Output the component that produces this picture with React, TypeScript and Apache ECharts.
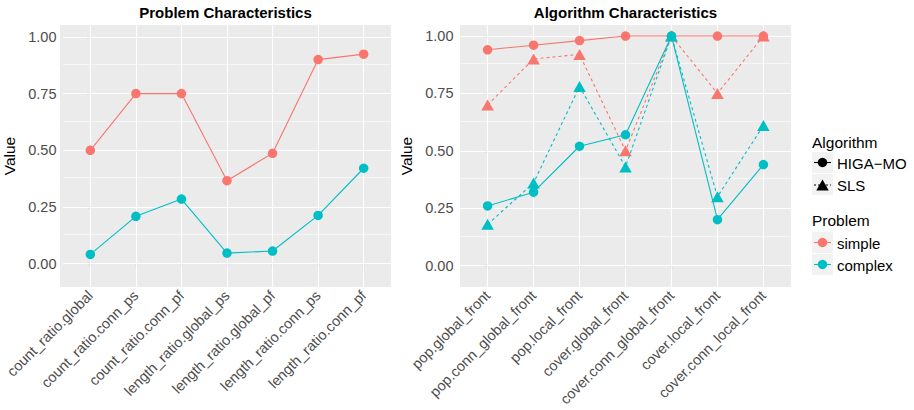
import React, { useEffect, useRef } from "react";
import * as echarts from "echarts";

const problemCategories = [
  "count_ratio.global",
  "count_ratio.conn_ps",
  "count_ratio.conn_pf",
  "length_ratio.global_ps",
  "length_ratio.global_pf",
  "length_ratio.conn_ps",
  "length_ratio.conn_pf",
];
const problemSimple = [0.5, 0.75, 0.75, 0.366, 0.487, 0.9, 0.924];
const problemComplex = [0.041, 0.209, 0.285, 0.047, 0.056, 0.213, 0.421];

const algoCategories = [
  "pop.global_front",
  "pop.conn_global_front",
  "pop.local_front",
  "cover.global_front",
  "cover.conn_global_front",
  "cover.local_front",
  "cover.conn_local_front",
];
const higaSimple = [0.94, 0.96, 0.98, 1.0, 1.0, 1.0, 1.0];
const slsSimple = [0.7, 0.9, 0.92, 0.5, 1.0, 0.75, 1.0];
const higaComplex = [0.26, 0.32, 0.52, 0.57, 1.0, 0.2, 0.44];
const slsComplex = [0.18, 0.36, 0.78, 0.43, 1.0, 0.3, 0.61];

const yTicks = [0, 0.25, 0.5, 0.75, 1.0];
const yMinor = [0.125, 0.375, 0.625, 0.875];
const xIdx = [0, 1, 2, 3, 4, 5, 6];

const RED = "#F8766D";
const TEAL = "#00BFC4";
const FONT = "Liberation Sans, Arial, Helvetica, sans-serif";
const Y_RANGES = [
  [-0.1025, 1.0525],
  [-0.093, 1.048],
];
const PANELS = [
  { left: 60, top: 25, width: 331, height: 262 },
  { left: 460, top: 25, width: 331, height: 262 },
];

const pairs = (vals: number[]) => vals.map((v, i) => [i, v]);

export default function App() {
  const ref = useRef<HTMLDivElement>(null);
  useEffect(() => {
    if (!ref.current) return;
    const chart = echarts.init(ref.current, null, { renderer: "svg" });

    const xAxisFor = (gridIndex: number, cats: string[]) => ({
      type: "value",
      gridIndex,
      min: -0.6,
      max: 6.6,
      axisLine: { show: false },
      splitLine: { show: false },
      axisTick: {
        show: true,
        customValues: xIdx,
        length: 3.5,
        lineStyle: { color: "#333333", width: 1.1 },
      },
      axisLabel: {
        customValues: xIdx,
        rotate: 45,
        margin: 6,
        fontSize: 14.5,
        color: "#4D4D4D",
        fontFamily: FONT,
        formatter: (v: number) => cats[Math.round(v)],
      },
    });
    const yAxisFor = (gridIndex: number) => ({
      type: "value",
      gridIndex,
      min: Y_RANGES[gridIndex][0],
      max: Y_RANGES[gridIndex][1],
      name: "Value",
      nameLocation: "middle",
      nameRotate: 90,
      nameGap: 46,
      nameTextStyle: { fontSize: 15.5, color: "#000", fontFamily: FONT },
      axisLine: { show: false },
      splitLine: { show: false },
      axisTick: {
        show: true,
        customValues: yTicks,
        length: 3.5,
        lineStyle: { color: "#333333", width: 1.1 },
      },
      axisLabel: {
        customValues: yTicks,
        margin: 6.5,
        fontSize: 14.5,
        color: "#4D4D4D",
        fontFamily: FONT,
        formatter: (v: number) => v.toFixed(2),
      },
    });

    const gridSeries = (idx: number) => ({
      type: "line",
      xAxisIndex: idx,
      yAxisIndex: idx,
      data: [],
      z: 0,
      silent: true,
      markLine: {
        silent: true,
        symbol: "none",
        label: { show: false },
        emphasis: { disabled: true },
        data: [
          ...yMinor.map((v) => ({ yAxis: v, lineStyle: { color: "#FFFFFF", width: 0.55, type: "solid" } })),
          ...yTicks.map((v) => ({ yAxis: v, lineStyle: { color: "#FFFFFF", width: 1.1, type: "solid" } })),
          ...xIdx.map((v) => ({ xAxis: v, lineStyle: { color: "#FFFFFF", width: 1.1, type: "solid" } })),
        ],
      },
    });

    const lineS = (idx: number, vals: number[], color: string, dashed: boolean) => ({
      type: "line",
      xAxisIndex: idx,
      yAxisIndex: idx,
      data: pairs(vals),
      showSymbol: false,
      symbol: "none",
      z: 6,
      lineStyle: { color, width: 1.1, type: dashed ? [3, 3] : "solid" },
      itemStyle: { color },
      silent: true,
    });
    const pointS = (idx: number, vals: number[], color: string, tri: boolean) => ({
      type: "scatter",
      xAxisIndex: idx,
      yAxisIndex: idx,
      data: pairs(vals),
      symbol: tri ? "triangle" : "circle",
      symbolSize: tri ? [12.5, 11] : 9.5,
      z: 7,
      itemStyle: { color, opacity: 1 },
      silent: true,
    });

    const kx = 812;
    const kw = 21;
    const tf = `15.5px ${FONT}`;
    const lf = `15px ${FONT}`;
    const legend: any[] = [
      { type: "text", x: kx, y: 142, style: { text: "Algorithm", font: tf, fill: "#000", verticalAlign: "middle" } },
      { type: "rect", shape: { x: kx, y: 152, width: kw, height: kw }, style: { fill: "#F2F2F2" } },
      { type: "line", shape: { x1: kx + 2, y1: 162.5, x2: kx + kw - 2, y2: 162.5 }, style: { stroke: "#000", lineWidth: 1.1 } },
      { type: "circle", shape: { cx: kx + kw / 2, cy: 162.5, r: 4.75 }, style: { fill: "#000" } },
      { type: "text", x: 837, y: 163, style: { text: "HIGA\u2212MO", font: lf, fill: "#000", verticalAlign: "middle" } },
      { type: "rect", shape: { x: kx, y: 174, width: kw, height: kw }, style: { fill: "#F2F2F2" } },
      { type: "line", shape: { x1: kx + 2, y1: 185, x2: kx + kw - 2, y2: 185 }, style: { stroke: "#000", lineWidth: 1.1, lineDash: [2, 2] } },
      { type: "polygon", shape: { points: [[kx + kw / 2, 179.5], [kx + kw / 2 + 6.25, 190.5], [kx + kw / 2 - 6.25, 190.5]] }, style: { fill: "#000" } },
      { type: "text", x: 837, y: 185.5, style: { text: "SLS", font: lf, fill: "#000", verticalAlign: "middle" } },
      { type: "text", x: kx, y: 220, style: { text: "Problem", font: tf, fill: "#000", verticalAlign: "middle" } },
      { type: "rect", shape: { x: kx, y: 232, width: kw, height: kw }, style: { fill: "#F2F2F2" } },
      { type: "line", shape: { x1: kx + 2, y1: 242.5, x2: kx + kw - 2, y2: 242.5 }, style: { stroke: RED, lineWidth: 1.1 } },
      { type: "circle", shape: { cx: kx + kw / 2, cy: 242.5, r: 4.75 }, style: { fill: RED } },
      { type: "text", x: 837, y: 243, style: { text: "simple", font: lf, fill: "#000", verticalAlign: "middle" } },
      { type: "rect", shape: { x: kx, y: 254, width: kw, height: kw }, style: { fill: "#F2F2F2" } },
      { type: "line", shape: { x1: kx + 2, y1: 264.5, x2: kx + kw - 2, y2: 264.5 }, style: { stroke: TEAL, lineWidth: 1.1 } },
      { type: "circle", shape: { cx: kx + kw / 2, cy: 264.5, r: 4.75 }, style: { fill: TEAL } },
      { type: "text", x: 837, y: 265, style: { text: "complex", font: lf, fill: "#000", verticalAlign: "middle" } },
      { type: "text", x: 225.5, y: 12, style: { text: "Problem Characteristics", font: `bold 15px ${FONT}`, fill: "#000", align: "center", verticalAlign: "middle" } },
      { type: "text", x: 625.5, y: 12, style: { text: "Algorithm Characteristics", font: `bold 15px ${FONT}`, fill: "#000", align: "center", verticalAlign: "middle" } },
    ];

    chart.setOption({
      animation: false,
      backgroundColor: "transparent",
      textStyle: { fontFamily: FONT },
      grid: PANELS.map((p) => ({ ...p, show: false, borderWidth: 0 })),
      xAxis: [xAxisFor(0, problemCategories), xAxisFor(1, algoCategories)],
      yAxis: [yAxisFor(0), yAxisFor(1)],
      series: [
        gridSeries(0),
        gridSeries(1),
        lineS(0, problemSimple, RED, false),
        lineS(0, problemComplex, TEAL, false),
        pointS(0, problemSimple, RED, false),
        pointS(0, problemComplex, TEAL, false),
        lineS(1, higaSimple, RED, false),
        lineS(1, slsSimple, RED, true),
        lineS(1, higaComplex, TEAL, false),
        lineS(1, slsComplex, TEAL, true),
        pointS(1, higaSimple, RED, false),
        pointS(1, slsSimple, RED, true),
        pointS(1, higaComplex, TEAL, false),
        pointS(1, slsComplex, TEAL, true),
      ],
      graphic: legend,
    });
    return () => chart.dispose();
  }, []);
  return (
    <div
      style={{ position: "absolute", left: 0, top: 0, width: 914, height: 410, background: "#FFFFFF" }}
    >
      {PANELS.map((p, i) => (
        <div
          key={i}
          style={{ position: "absolute", left: p.left, top: p.top, width: p.width, height: p.height, background: "#EBEBEB" }}
        />
      ))}
      <div
        ref={ref}
        style={{ position: "absolute", left: 0, top: 0, width: 914, height: 410 }}
      />
    </div>
  );
}
